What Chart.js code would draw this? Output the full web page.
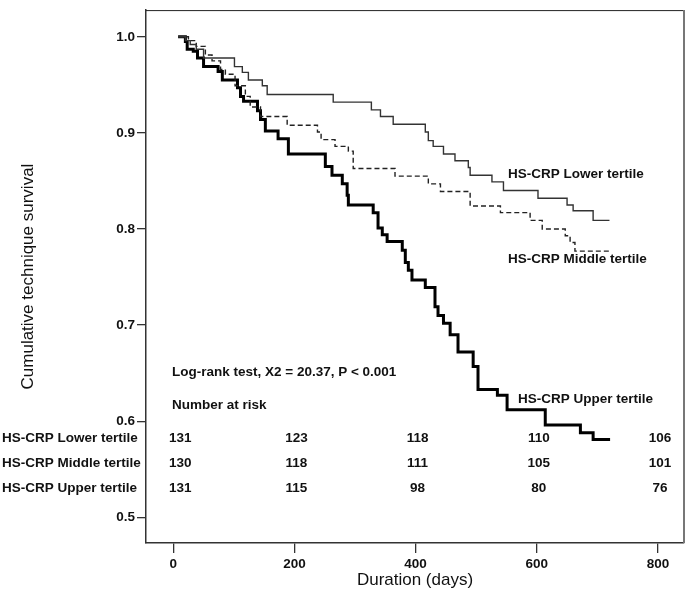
<!DOCTYPE html>
<html>
<head>
<meta charset="utf-8">
<title>Technique survival by HS-CRP tertile</title>
<script src="https://cdn.jsdelivr.net/npm/chart.js"></script>
<style>
  html, body { margin: 0; padding: 0; background: #fff; }
  #wrap { width: 690px; height: 598px; position: relative; }
</style>
</head>
<body>
<div id="wrap"><canvas id="km-chart" width="690" height="598"></canvas></div>
<script>
// Kaplan-Meier steps (day, cumulative survival after the event)
const lowerDays = [8, 20, 28, 38, 50, 101, 114, 124, 147, 155, 264, 327, 342, 363, 416, 421, 429, 446, 465, 487, 490, 526, 545, 602, 650, 660, 693, 720];
const lowerSurv = [1.0, 0.996, 0.992, 0.987, 0.978, 0.969, 0.963, 0.955, 0.949, 0.940, 0.932, 0.924, 0.917, 0.909, 0.901, 0.892, 0.886, 0.878, 0.871, 0.864, 0.856, 0.849, 0.840, 0.832, 0.825, 0.819, 0.809, 0.809];

const middleDays = [8, 25, 38, 53, 64, 78, 86, 102, 119, 127, 144, 188, 238, 244, 267, 289, 297, 366, 421, 441, 490, 540, 589, 609, 647, 655, 663, 721];
const middleSurv = [1.0, 0.996, 0.990, 0.981, 0.975, 0.966, 0.961, 0.949, 0.938, 0.927, 0.917, 0.908, 0.901, 0.893, 0.886, 0.881, 0.863, 0.855, 0.847, 0.839, 0.824, 0.817, 0.809, 0.800, 0.793, 0.786, 0.777, 0.777];

const upperDays = [8, 20, 23, 33, 40, 50, 74, 81, 106, 111, 116, 139, 144, 152, 173, 190, 251, 262, 279, 287, 289, 330, 338, 345, 353, 378, 383, 388, 394, 416, 432, 437, 446, 457, 470, 495, 503, 535, 551, 614, 672, 693, 721];
const upperSurv = [1.0, 0.995, 0.987, 0.985, 0.978, 0.969, 0.964, 0.955, 0.947, 0.938, 0.933, 0.923, 0.914, 0.902, 0.894, 0.878, 0.865, 0.856, 0.847, 0.835, 0.825, 0.817, 0.801, 0.794, 0.787, 0.778, 0.765, 0.757, 0.747, 0.739, 0.719, 0.710, 0.702, 0.690, 0.672, 0.657, 0.633, 0.627, 0.612, 0.596, 0.588, 0.581, 0.581];

const groupNames = ['HS-CRP Lower tertile', 'HS-CRP Middle tertile', 'HS-CRP Upper tertile'];

// number at risk table
const riskDays = [0, 200, 400, 600, 800];
const riskLower = [131, 123, 118, 110, 106];
const riskMiddle = [130, 118, 111, 105, 101];
const riskUpper = [131, 115, 98, 80, 76];

const xTicks = [0, 200, 400, 600, 800];
const yTicks = [0.5, 0.6, 0.7, 0.8, 0.9, 1.0];

const testText = 'Log-rank test, X2 = 20.37, P < 0.001';

const FONT = "'Liberation Sans', Arial, sans-serif";
const BOLD = 'bold 13.5px ' + FONT;

function toPoints(days, surv) {
  return days.map((d, i) => ({ x: d, y: surv[i] }));
}

// frame, curve labels and the risk table
const annotations = {
  id: 'annotations',
  afterDraw(chart) {
    const { ctx, chartArea } = chart;
    const xs = chart.scales.x;
    ctx.save();

    // top and right frame
    ctx.strokeStyle = '#222';
    ctx.lineWidth = 1;
    ctx.beginPath();
    ctx.moveTo(chartArea.left, chartArea.top + 0.5);
    ctx.lineTo(chartArea.right, chartArea.top + 0.5);
    ctx.stroke();
    ctx.strokeStyle = '#777';
    ctx.lineWidth = 2;
    ctx.beginPath();
    ctx.moveTo(chartArea.right, chartArea.top);
    ctx.lineTo(chartArea.right, chartArea.bottom);
    ctx.stroke();

    ctx.fillStyle = '#111';
    ctx.font = BOLD;
    ctx.textBaseline = 'middle';
    ctx.textAlign = 'left';

    // curve labels
    ctx.fillText(groupNames[0], 508, 174);
    ctx.fillText(groupNames[1], 508, 259);
    ctx.fillText(groupNames[2], 518, 399);

    ctx.fillText(testText, 172, 372);
    ctx.fillText('Number at risk', 172, 405);

    // risk table
    const rows = [riskLower, riskMiddle, riskUpper];
    const rowY = [438, 463, 488];
    rows.forEach((row, r) => {
      ctx.textAlign = 'left';
      ctx.fillText(groupNames[r], 2, rowY[r]);
      ctx.textAlign = 'center';
      row.forEach((n, i) => {
        const x = xs.getPixelForValue(riskDays[i]) + (i === 0 ? 7 : 2);
        ctx.fillText(String(n), x, rowY[r]);
      });
    });

    ctx.restore();
  }
};

const chart = new Chart(document.getElementById('km-chart'), {
  type: 'line',
  data: {
    datasets: [
      {
        label: groupNames[0],
        data: toPoints(lowerDays, lowerSurv),
        stepped: 'before',
        borderColor: '#333',
        borderWidth: 1.4,
        pointRadius: 0,
        fill: false
      },
      {
        label: groupNames[1],
        data: toPoints(middleDays, middleSurv),
        stepped: 'before',
        borderColor: '#222',
        borderWidth: 1.4,
        borderDash: [5, 3],
        pointRadius: 0,
        fill: false
      },
      {
        label: groupNames[2],
        data: toPoints(upperDays, upperSurv),
        stepped: 'before',
        borderColor: '#000',
        borderWidth: 3,
        pointRadius: 0,
        fill: false
      }
    ]
  },
  options: {
    responsive: false,
    animation: false,
    layout: { padding: { top: 5, right: 6, left: 0, bottom: 0 } },
    plugins: {
      legend: { display: false },
      tooltip: { enabled: false }
    },
    scales: {
      x: {
        type: 'linear',
        min: -45,
        max: 843,
        afterBuildTicks: (s) => { s.ticks = xTicks.map(v => ({ value: v })); },
        afterFit: (s) => { s.height = 55; },
        grid: { drawOnChartArea: false, drawTicks: true, tickLength: 10, color: '#333', lineWidth: 1.3 },
        border: { display: true, color: '#333', width: 1.5 },
        ticks: {
          autoSkip: false,
          maxRotation: 0,
          padding: 3,
          color: '#111',
          font: { family: FONT, size: 13.5, weight: 'bold' },
          callback: (v) => String(v)
        },
        title: {
          display: true,
          text: 'Duration (days)',
          color: '#111',
          font: { family: FONT, size: 17 },
          padding: { top: 0, bottom: 7 }
        }
      },
      y: {
        type: 'linear',
        min: 0.4732,
        max: 1.0278,
        afterBuildTicks: (s) => { s.ticks = yTicks.map(v => ({ value: v })); },
        afterFit: (s) => { s.width = 146; },
        grid: { drawOnChartArea: false, drawTicks: true, tickLength: 9, color: '#333', lineWidth: 1.3 },
        border: { display: true, color: '#333', width: 1.5 },
        ticks: {
          autoSkip: false,
          padding: 2,
          color: '#111',
          font: { family: FONT, size: 13.5, weight: 'bold' },
          callback: (v) => v.toFixed(1)
        },
        title: {
          display: true,
          text: 'Cumulative technique survival',
          color: '#111',
          font: { family: FONT, size: 17 },
          padding: { top: 18, bottom: 0 }
        }
      }
    }
  },
  plugins: [annotations]
});
</script>
</body>
</html>
